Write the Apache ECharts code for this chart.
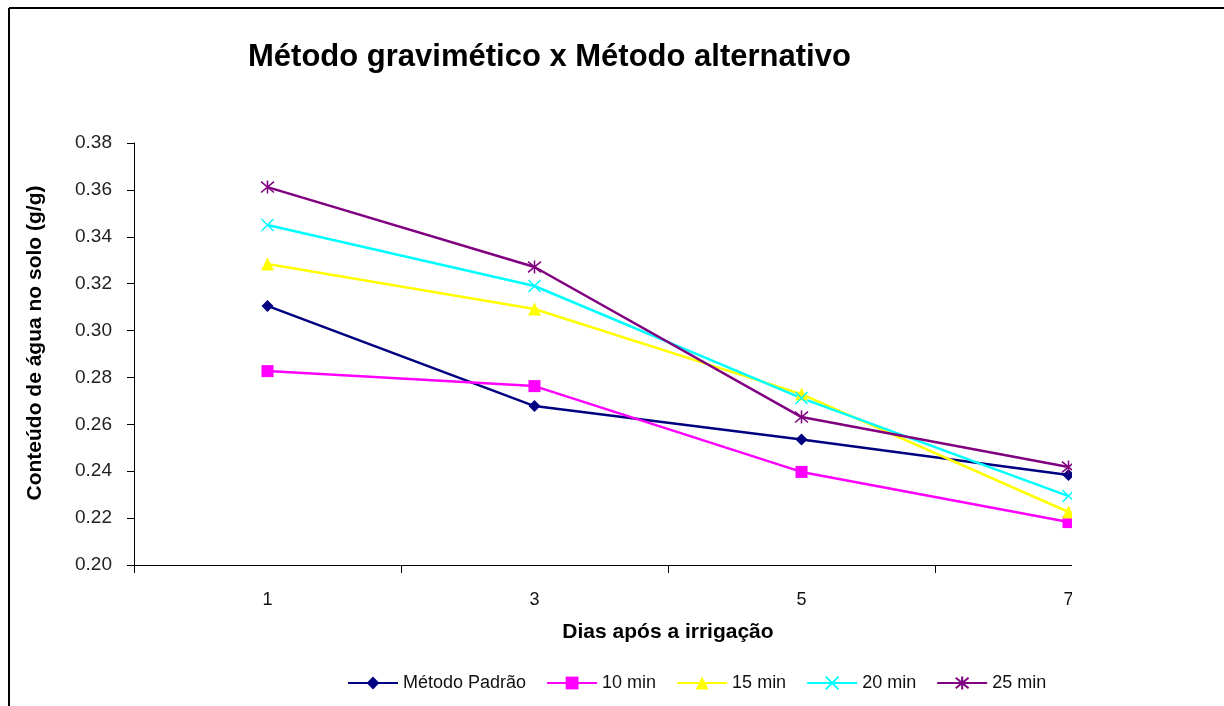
<!DOCTYPE html>
<html>
<head>
<meta charset="utf-8">
<script src="https://cdn.jsdelivr.net/npm/echarts@6/dist/echarts.min.js"></script>
<style>html,body{margin:0;padding:0;background:#fff}#chart{width:1224px;height:706px}</style>
</head>
<body>
<div id="chart"></div>
<script>
const days = [1, 3, 5, 7];
const seriesNames = ['Método Padrão', '10 min', '15 min', '20 min', '25 min'];
const padrao = [0.3105, 0.2678, 0.2535, 0.2384];
const min10 = [0.2827, 0.2763, 0.2397, 0.2183];
const min15 = [0.3284, 0.3092, 0.2729, 0.2226];
const min20 = [0.3450, 0.3190, 0.2712, 0.2294];
const min25 = [0.3612, 0.3271, 0.2631, 0.2418];
const yTicks = ['0.20','0.22','0.24','0.26','0.28','0.30','0.32','0.34','0.36','0.38'];

const FONT = "'Liberation Sans', Arial, sans-serif";
const colors = ['#000080', '#FF00FF', '#FFFF00', '#00FFFF', '#800080'];
const symbols = ['diamond', 'rect', 'triangle',
  'path://M0,0L10,10M10,0L0,10',
  'path://M0,0L10,10M10,0L0,10M5,-1L5,11'];
const sizes = [12, 12, 13, 12, 13];
const values = [padrao, min10, min15, min20, min25];

const chart = echarts.init(document.getElementById('chart'), null, {renderer: 'canvas'});
const series = values.map((vals, i) => ({
  name: seriesNames[i],
  type: 'line',
  xAxisIndex: 0,
  data: days.map((d, j) => [d, vals[j]]),
  symbol: symbols[i],
  symbolSize: sizes[i],
  showSymbol: true,
  animation: false,
  lineStyle: {color: colors[i], width: 2.5},
  itemStyle: {color: colors[i], borderColor: colors[i], borderWidth: i >= 3 ? 1.5 : 0}
}));

chart.setOption({
  animation: false,
  backgroundColor: '#fff',
  title: {
    text: 'Método gravimético x Método alternativo',
    left: 243, top: 37,
    textStyle: {fontFamily: FONT, fontSize: 31, fontWeight: 'bold', color: '#000'}
  },
  legend: {
    data: seriesNames,
    left: 342, top: 669,
    itemWidth: 50, itemHeight: 16, itemGap: 20,
    textStyle: {fontFamily: FONT, fontSize: 18, color: '#111'}
  },
  grid: {left: 134, top: 143, right: 22, bottom: 141, containLabel: false},
  xAxis: [
    {
      type: 'value', min: 0, max: 8, interval: 2,
      name: 'Dias após a irrigação', nameLocation: 'middle', nameGap: 57,
      nameTextStyle: {fontFamily: FONT, fontSize: 21, fontWeight: 'bold', color: '#000'},
      axisLine: {show: true, lineStyle: {color: '#000', width: 1}},
      axisTick: {show: true, inside: false, length: 8, lineStyle: {color: '#000'}},
      axisLabel: {show: false},
      splitLine: {show: false}
    },
    {
      type: 'value', min: 0, max: 8, interval: 1, position: 'bottom',
      axisLine: {show: false}, axisTick: {show: false}, splitLine: {show: false},
      axisLabel: {
        show: true, margin: 26, fontFamily: FONT, fontSize: 18, color: '#111',
        formatter: v => (days.indexOf(v) >= 0 ? String(v) : '')
      }
    }
  ],
  yAxis: {
    type: 'value', min: 0.2, max: 0.38, interval: 0.02,
    name: 'Conteúdo de água no solo (g/g)', nameLocation: 'middle', nameGap: 88, nameRotate: 90,
    nameTextStyle: {fontFamily: FONT, fontSize: 21, fontWeight: 'bold', color: '#000', padding: [0, 0, 0, 22]},
    axisLine: {show: true, lineStyle: {color: '#000', width: 1}},
    axisTick: {show: true, inside: false, length: 7, lineStyle: {color: '#000'}},
    axisLabel: {
      margin: 22, fontFamily: FONT, fontSize: 19, color: '#222',
      formatter: v => yTicks[Math.round((v - 0.2) / 0.02)]
    },
    splitLine: {show: false}
  },
  series: series,
  graphic: [
    {type: 'rect', z: 100, shape: {x: 1072, y: 12, width: 160, height: 700}, style: {fill: '#fff'}},
    {type: 'rect', z: 100, shape: {x: 12, y: 690, width: 1220, height: 20}, style: {fill: '#fff'}},
    {type: 'line', z: 101, shape: {x1: 9, y1: 8, x2: 1224, y2: 8}, style: {stroke: '#000', lineWidth: 2}},
    {type: 'line', z: 101, shape: {x1: 9, y1: 8, x2: 9, y2: 706}, style: {stroke: '#000', lineWidth: 2}}
  ]
});
</script>
</body>
</html>
